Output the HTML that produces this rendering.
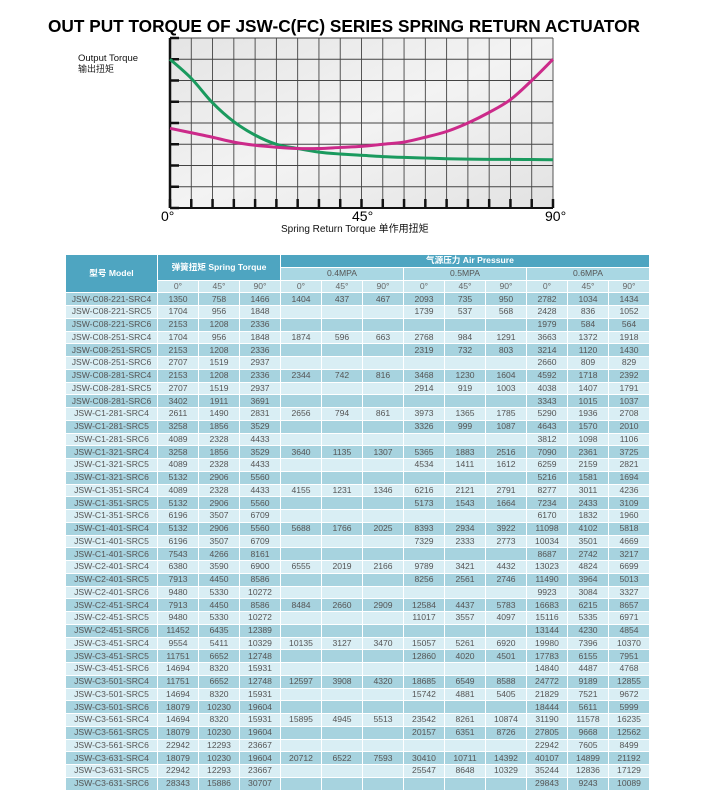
<!DOCTYPE html>
<html><head><meta charset="utf-8">
<style>
body{margin:0;width:725px;height:809px;background:#fff;position:relative;overflow:hidden;font-family:"Liberation Sans","Noto Sans CJK SC",sans-serif}
#chart{position:absolute;left:0;top:0}
table{position:absolute;left:65px;top:254px;width:585px;border-collapse:collapse;table-layout:fixed;font-size:8.6px;color:#555}
td,th{border:1px solid #fff;padding:0;text-align:center;white-space:nowrap;overflow:hidden;height:11.75px;line-height:11px;font-weight:normal}
th.h{background:#4ea5c1;color:#fff;font-weight:bold}
th.m{background:#a9d7e3;color:#555}
th.a{background:#cde8ef;color:#666}
tr.d td{background:#a7d3df}
tr.l td{background:#d9eef4}
</style></head><body>
<svg id="chart" width="725" height="250" xmlns="http://www.w3.org/2000/svg">
<defs><linearGradient id="bg" x1="0" y1="0" x2="1" y2="1"><stop offset="0" stop-color="#e4e4e4"/><stop offset="0.5" stop-color="#f3f3f3"/><stop offset="1" stop-color="#e2e2e2"/></linearGradient></defs>
<text x="48" y="32" font-size="17.5" font-weight="bold" fill="#000" textLength="592" lengthAdjust="spacingAndGlyphs">OUT PUT TORQUE OF JSW-C(FC) SERIES SPRING RETURN ACTUATOR</text>
<rect x="170" y="38" width="383" height="170" fill="url(#bg)"/>
<g id="grid"></g>
<g id="lines"></g>
<text x="78" y="61" font-size="9.5" fill="#111">Output Torque</text>
<text x="78" y="72" font-size="9" fill="#222">输出扭矩</text>
<text x="161" y="221" font-size="14" fill="#000">0°</text>
<text x="352" y="221" font-size="14" fill="#000">45°</text>
<text x="545" y="221" font-size="14" fill="#000">90°</text>
<text x="281" y="232" font-size="10" fill="#111">Spring Return Torque 单作用扭矩</text>
</svg>
<script>
const angles=[0,5,10,15,20,25,30,35,40,45,50,55,60,65,70,75,80,85,90];
const springTorque=[7.0,6.1,4.95,4.06,3.43,3.0,2.8,2.63,2.54,2.48,2.42,2.38,2.35,2.32,2.3,2.29,2.29,2.28,2.27];
const airTorque=[3.75,3.54,3.33,3.1,2.95,2.86,2.8,2.8,2.85,2.9,3.0,3.1,3.33,3.6,4.0,4.5,5.1,6.0,7.0];
const X0=170,X1=553,Y0=208,Y1=38,YMAX=8;
const xs=a=>X0+(a/90)*(X1-X0);
const ys=v=>Y0-(v/YMAX)*(Y0-Y1);
const NS='http://www.w3.org/2000/svg';
const grid=document.getElementById('grid');
function ln(x1,y1,x2,y2,w,c){const l=document.createElementNS(NS,'line');l.setAttribute('x1',x1);l.setAttribute('y1',y1);l.setAttribute('x2',x2);l.setAttribute('y2',y2);l.setAttribute('stroke',c);l.setAttribute('stroke-width',w);grid.appendChild(l);return l;}
for(let i=0;i<=18;i++){const x=xs(i*5);
const g=ln(x,Y1,x,Y0,0.9,'#444');


const t=ln(x,Y0-9,x,Y0,2.5,'#111');

}
for(let v=0;v<=8;v++){const y=ys(v);
const g=ln(X0,y,X1,y,0.9,'#444');


const t=ln(X0,y,X0+9,y,2.5,'#111');

}
const ax=ln(X0,Y1,X0,Y0,2.5,'#111');


const bx=ln(X0,Y0,X1,Y0,2,'#111');


function curve(vals,color,name){let d='';
const p=angles.map((a,i)=>[xs(a),ys(vals[i])]);
d='M'+p[0][0]+','+p[0][1];
for(let i=0;i<p.length-1;i++){const p0=p[Math.max(i-1,0)],p1=p[i],p2=p[i+1],p3=p[Math.min(i+2,p.length-1)];
d+=' C'+(p1[0]+(p2[0]-p0[0])/6)+','+(p1[1]+(p2[1]-p0[1])/6)+' '+(p2[0]-(p3[0]-p1[0])/6)+','+(p2[1]-(p3[1]-p1[1])/6)+' '+p2[0]+','+p2[1];}
const el=document.createElementNS(NS,'path');el.setAttribute('d',d);el.setAttribute('fill','none');el.setAttribute('stroke',color);el.setAttribute('stroke-width','3');


document.getElementById('lines').appendChild(el);}
curve(springTorque,'#1a9a5e','spring-torque-line');
curve(airTorque,'#cc2a8a','air-torque-line');
</script>
<table id="tbl">
<colgroup><col style="width:92px"><col span="12"></colgroup>
<thead>
<tr><th class="h" rowspan="3">型号 Model</th><th class="h" colspan="3" rowspan="2">弹簧扭矩 Spring Torque</th><th class="h" colspan="9" style="text-align:left;padding-left:145px">气源压力 Air Pressure</th></tr>
<tr><th class="m" colspan="3">0.4MPA</th><th class="m" colspan="3">0.5MPA</th><th class="m" colspan="3">0.6MPA</th></tr>
<tr><th class="a">0°</th><th class="a">45°</th><th class="a">90°</th><th class="a">0°</th><th class="a">45°</th><th class="a">90°</th><th class="a">0°</th><th class="a">45°</th><th class="a">90°</th><th class="a">0°</th><th class="a">45°</th><th class="a">90°</th></tr>
</thead><tbody id="tb"></tbody></table>
<script>
const models=["JSW-C08-221-SRC4","JSW-C08-221-SRC5","JSW-C08-221-SRC6","JSW-C08-251-SRC4","JSW-C08-251-SRC5","JSW-C08-251-SRC6","JSW-C08-281-SRC4","JSW-C08-281-SRC5","JSW-C08-281-SRC6","JSW-C1-281-SRC4","JSW-C1-281-SRC5","JSW-C1-281-SRC6","JSW-C1-321-SRC4","JSW-C1-321-SRC5","JSW-C1-321-SRC6","JSW-C1-351-SRC4","JSW-C1-351-SRC5","JSW-C1-351-SRC6","JSW-C1-401-SRC4","JSW-C1-401-SRC5","JSW-C1-401-SRC6","JSW-C2-401-SRC4","JSW-C2-401-SRC5","JSW-C2-401-SRC6","JSW-C2-451-SRC4","JSW-C2-451-SRC5","JSW-C2-451-SRC6","JSW-C3-451-SRC4","JSW-C3-451-SRC5","JSW-C3-451-SRC6","JSW-C3-501-SRC4","JSW-C3-501-SRC5","JSW-C3-501-SRC6","JSW-C3-561-SRC4","JSW-C3-561-SRC5","JSW-C3-561-SRC6","JSW-C3-631-SRC4","JSW-C3-631-SRC5","JSW-C3-631-SRC6"];
const rows=[
"1350 758 1466 1404 437 467 2093 735 950 2782 1034 1434",
"1704 956 1848 - - - 1739 537 568 2428 836 1052",
"2153 1208 2336 - - - - - - 1979 584 564",
"1704 956 1848 1874 596 663 2768 984 1291 3663 1372 1918",
"2153 1208 2336 - - - 2319 732 803 3214 1120 1430",
"2707 1519 2937 - - - - - - 2660 809 829",
"2153 1208 2336 2344 742 816 3468 1230 1604 4592 1718 2392",
"2707 1519 2937 - - - 2914 919 1003 4038 1407 1791",
"3402 1911 3691 - - - - - - 3343 1015 1037",
"2611 1490 2831 2656 794 861 3973 1365 1785 5290 1936 2708",
"3258 1856 3529 - - - 3326 999 1087 4643 1570 2010",
"4089 2328 4433 - - - - - - 3812 1098 1106",
"3258 1856 3529 3640 1135 1307 5365 1883 2516 7090 2361 3725",
"4089 2328 4433 - - - 4534 1411 1612 6259 2159 2821",
"5132 2906 5560 - - - - - - 5216 1581 1694",
"4089 2328 4433 4155 1231 1346 6216 2121 2791 8277 3011 4236",
"5132 2906 5560 - - - 5173 1543 1664 7234 2433 3109",
"6196 3507 6709 - - - - - - 6170 1832 1960",
"5132 2906 5560 5688 1766 2025 8393 2934 3922 11098 4102 5818",
"6196 3507 6709 - - - 7329 2333 2773 10034 3501 4669",
"7543 4266 8161 - - - - - - 8687 2742 3217",
"6380 3590 6900 6555 2019 2166 9789 3421 4432 13023 4824 6699",
"7913 4450 8586 - - - 8256 2561 2746 11490 3964 5013",
"9480 5330 10272 - - - - - - 9923 3084 3327",
"7913 4450 8586 8484 2660 2909 12584 4437 5783 16683 6215 8657",
"9480 5330 10272 - - - 11017 3557 4097 15116 5335 6971",
"11452 6435 12389 - - - - - - 13144 4230 4854",
"9554 5411 10329 10135 3127 3470 15057 5261 6920 19980 7396 10370",
"11751 6652 12748 - - - 12860 4020 4501 17783 6155 7951",
"14694 8320 15931 - - - - - - 14840 4487 4768",
"11751 6652 12748 12597 3908 4320 18685 6549 8588 24772 9189 12855",
"14694 8320 15931 - - - 15742 4881 5405 21829 7521 9672",
"18079 10230 19604 - - - - - - 18444 5611 5999",
"14694 8320 15931 15895 4945 5513 23542 8261 10874 31190 11578 16235",
"18079 10230 19604 - - - 20157 6351 8726 27805 9668 12562",
"22942 12293 23667 - - - - - - 22942 7605 8499",
"18079 10230 19604 20712 6522 7593 30410 10711 14392 40107 14899 21192",
"22942 12293 23667 - - - 25547 8648 10329 35244 12836 17129",
"28343 15886 30707 - - - - - - 29843 9243 10089"];
const tb=document.getElementById('tb');
models.forEach((m,i)=>{const tr=document.createElement('tr');tr.className=i%2?'l':'d';


const c=document.createElement('td');c.textContent=m;tr.appendChild(c);
rows[i].split(' ').forEach(v=>{const td=document.createElement('td');td.textContent=v==='-'?'':v;tr.appendChild(td);});
tb.appendChild(tr);});
</script>
</body></html>
